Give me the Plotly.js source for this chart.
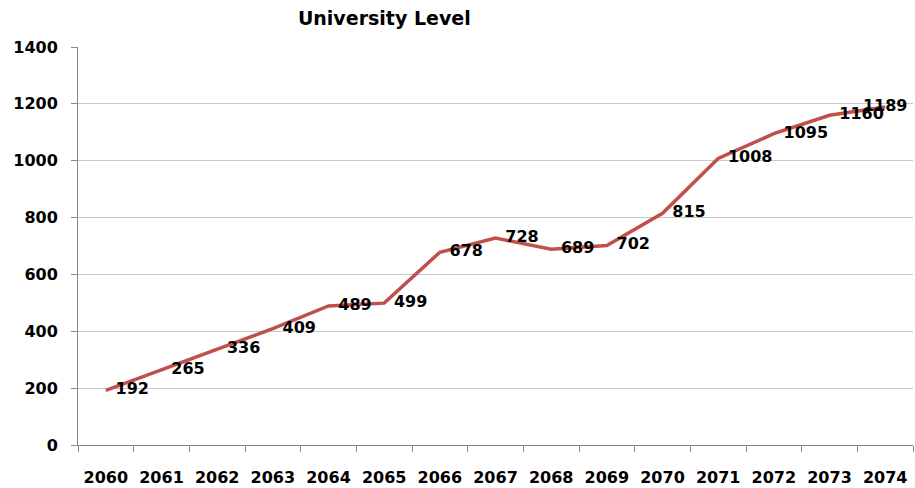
<!DOCTYPE html>
<html><head><meta charset="utf-8">
<script src="https://cdn.plot.ly/plotly-3.0.1.min.js"></script>
<style>html,body{margin:0;padding:0;background:#fff}#chart{width:915px;height:488px}</style>
</head><body><div id="chart"></div>
<script>
const years = ['2060','2061','2062','2063','2064','2065','2066','2067','2068','2069','2070','2071','2072','2073','2074'];
const values = [192,265,336,409,489,499,678,728,689,702,815,1008,1095,1160,1189];
const yTicks = [0,200,400,600,800,1000,1200,1400];
const chartTitle = 'University Level';

const FONT = '"DejaVu Sans", sans-serif';

Plotly.newPlot('chart', [{
  x: years, y: values, type:'scatter', mode:'lines+markers+text',
  line:{color:'#C0504D', width:3.5},
  marker:{size:14, opacity:0, color:'#C0504D'},
  text: values.map(String),
  textposition: values.map((v,i)=> i === values.length-1 ? 'middle center' : 'middle right'),
  textfont:{family:FONT, size:16, color:'#000', weight:'bold'},
  cliponaxis:false, hoverinfo:'skip'
}], {
  width:915, height:488,
  margin:{l:78, r:2, t:47, b:43, autoexpand:false},
  paper_bgcolor:'#fff', plot_bgcolor:'#fff',
  showlegend:false,
  title:{text:chartTitle, x:0.42, xanchor:'center', y:0.962, yanchor:'middle',
    font:{family:FONT, size:19, color:'#000', weight:'bold'}},
  xaxis:{type:'category', tickson:'boundaries', ticks:'outside', ticklen:6, tickcolor:'#888',
    showline:true, linecolor:'#888', linewidth:1, showgrid:false, zeroline:false,
    ticklabelstandoff:18, range:[-0.5,14.5],
    tickfont:{family:FONT, size:16, color:'#000', weight:'bold'}},
  yaxis:{range:[0,1400], tickvals:yTicks, ticks:'outside', ticklen:6, tickcolor:'#888',
    showline:true, linecolor:'#888', linewidth:1, showgrid:true, gridcolor:'#c8c8c8',
    zeroline:false, ticklabelstandoff:10,
    tickfont:{family:FONT, size:16, color:'#000', weight:'bold'}}
}, {displayModeBar:false, staticPlot:true});
</script></body></html>
